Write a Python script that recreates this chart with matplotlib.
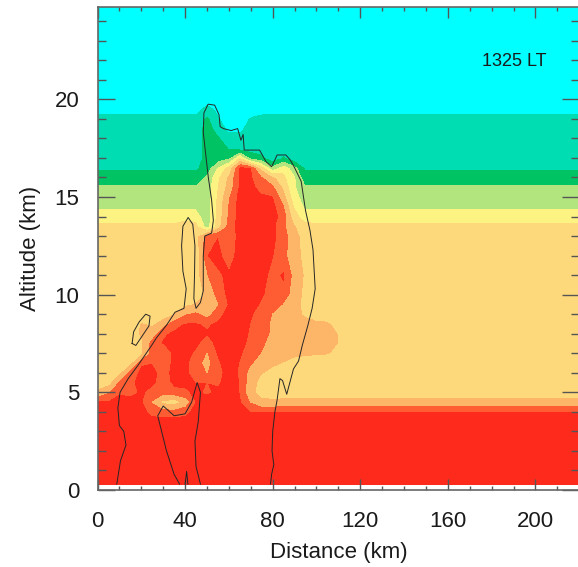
import numpy as np
import matplotlib
matplotlib.use('Agg')
import matplotlib.pyplot as plt
from matplotlib.ticker import MultipleLocator

plt.rcParams['font.family'] = ['Liberation Sans', 'DejaVu Sans']

# band classes: 0 red ... 8 cyan
band_colors = ['#fe2a1c', '#fe5c32', '#fdb567', '#fdd97b', '#fcf383',
               '#b3e57f', '#00c463', '#00ddb2', '#00ffff']

# altitude rows (km)
alt_km = [0.3, 3.0, 3.5, 4.0, 4.5, 5.0, 5.5, 6.0, 6.5, 7.0, 7.5, 8.0, 8.5, 9.0, 9.5,
          10.0, 11.0, 12.0, 13.0, 13.5, 14.0, 14.5, 15.0, 15.5, 16.0, 16.5, 17.0,
          17.5, 18.0, 18.5, 19.0, 19.5, 20.0, 24.8]

# undisturbed profile, used east of the storm
env_profile = [0, 0, 0, 0.5, 2.1, 3, 3, 3, 3, 3, 3, 3, 3, 3, 3,
               3, 3, 3, 3, 3.2, 4.0, 4.6, 5.0, 5.3, 6.0, 6.6, 7.0,
               7.0, 7.0, 7.0, 7.2, 7.8, 8, 8]
env_dist_km = [120, 220]

# storm section, columns at 0, 5, ..., 110 km
storm_dist_km = [0, 5, 10, 15, 20, 25, 30, 35, 40, 45, 50, 55, 60, 65, 70, 75, 80, 85, 90, 95, 100, 105, 110]
storm_rows = [
    [0, 0, 0, 0, 0, 0, 0, 0, 0, 0, 0, 0, 0, 0, 0, 0, 0, 0, 0, 0, 0, 0, 0],
    [0, 0, 0, 0, 0, 0, 0, 0, 0, 0, 0, 0, 0, 0, 0, 0, 0, 0, 0, 0, 0, 0, 0],
    [0, 0, 0, 0, 0, 0, 0, 0, 0, 0, 0, 0, 0, 0, 0, 0, 0, 0, 0, 0, 0, 0, 0],
    [0, 0, 0, 0, 0, 0.8, 1.0, 1.0, 0.8, 0, 0, 0, 0, 0, 0.5, 0.5, 0.5, 0.5, 0.5, 0.5, 0.5, 0.5, 0.5],
    [0.3, 0.3, 0, 0, 0.3, 1.5, 2.6, 2.8, 2.0, 0.3, 0, 0, 0, 0.3, 1.5, 2.2, 2.2, 2.1, 2.1, 2.1, 2.1, 2.1, 2.1],
    [2.2, 1.5, 0.6, 0.8, 0.3, 0.8, 1.0, 0.8, 0.6, 0.3, 0.6, 0.3, 0, 0.5, 2.2, 2.8, 3, 3, 3, 3, 3, 3, 3],
    [3, 2.8, 1.2, 0.6, 0.3, 0.2, 1.0, 0.2, 0.3, 0.5, 0.5, 0.6, 0, 0.5, 2.0, 2.8, 3, 3, 3, 3, 3, 3, 3],
    [3, 3, 2.6, 1.0, 0.2, 0.2, 0.8, 0.2, 0.3, 0.8, 1.5, 0.8, 0, 0.6, 1.8, 2.4, 2.7, 2.9, 3, 3, 3, 3, 3],
    [3, 3, 3, 2.6, 0.6, 0.5, 1.0, 0.2, 0.2, 1.0, 1.8, 0.6, 0, 0.5, 1.3, 2.0, 2.3, 2.5, 2.6, 2.7, 2.8, 3, 3],
    [3, 3, 3, 3, 2.6, 1.0, 1.2, 0.2, 0.2, 0.6, 1.5, 0.3, 0, 0.3, 1.0, 1.5, 2.0, 2.2, 2.4, 2.4, 2.4, 2.4, 2.7],
    [3, 3, 3, 3, 2.6, 0.8, 0.4, 0.2, 0.2, 0.3, 0.8, 0.2, 0, 0, 0.8, 1.3, 1.8, 2.0, 2.0, 2.0, 2.0, 2.1, 2.5],
    [3, 3, 3, 3, 2.3, 2.0, 0.6, 0.3, 0.2, 0.3, 0.4, 0.2, 0, 0, 0.6, 1.2, 1.6, 2.0, 2.0, 2.0, 2.0, 2.1, 2.5],
    [3, 3, 3, 3, 2.4, 2.6, 1.8, 0.8, 0.4, 0.4, 0.6, 0.3, 0, 0, 0.5, 1.1, 1.6, 2.0, 2.0, 2.1, 2.2, 2.3, 2.8],
    [3, 3, 3, 3, 3, 3, 3, 2.4, 1.5, 1.2, 1.8, 0.8, 0, 0, 0.3, 1.0, 1.5, 2.0, 2.2, 2.6, 3, 3, 3],
    [3, 3, 3, 3, 3, 3, 3, 3, 2.6, 2.4, 2.2, 1.5, 0.3, 0, 0, 0.6, 1.2, 1.5, 2.2, 2.7, 3, 3, 3],
    [3, 3, 3, 3, 3, 3, 3, 3, 3, 2.8, 2.3, 1.0, 0.2, 0, 0, 0.3, 1.0, 0.8, 2.0, 2.7, 3, 3, 3],
    [3, 3, 3, 3, 3, 3, 3, 3, 3, 2.8, 1.5, 0.6, 0.3, 0, 0, 0, 0.8, 0.3, 1.8, 2.6, 3, 3, 3],
    [3, 3, 3, 3, 3, 3, 3, 3, 2.6, 3.0, 0.5, 0.2, 0.9, 0, 0, 0, 0.4, 1.2, 2.0, 2.8, 3, 3, 3],
    [3, 3, 3, 3, 3, 3, 3, 3, 2.5, 2.8, 0.8, 0.5, 1.2, 0, 0, 0, 0.2, 1.0, 2.1, 2.9, 3, 3, 3],
    [3.2, 3.2, 3.2, 3.2, 3.2, 3.2, 3.2, 3.2, 2.6, 3.0, 4.8, 2.8, 1.0, 0, 0, 0, 0.2, 1.2, 2.4, 3.0, 3.2, 3.2, 3.2],
    [4, 4, 4, 4, 4, 4, 4, 4, 4, 4, 5, 3.0, 1.2, 0, 0, 0, 0, 0.9, 3.0, 4.0, 4, 4, 4],
    [4.6, 4.6, 4.6, 4.6, 4.6, 4.6, 4.6, 4.6, 4.6, 4.6, 5.0, 3.0, 1.3, 0, 0, 0.2, 0.1, 1.3, 3.5, 4.6, 4.6, 4.6, 4.6],
    [5, 5, 5, 5, 5, 5, 5, 5, 5, 5, 5.0, 3.2, 1.5, 0, 0, 0.3, 0.4, 2.0, 4.0, 5.0, 5, 5, 5],
    [5.3, 5.3, 5.3, 5.3, 5.3, 5.3, 5.3, 5.3, 5.3, 5.3, 5.0, 3.4, 2.0, 0.2, 0.2, 0.8, 1.2, 2.6, 4.3, 5.3, 5.3, 5.3, 5.3],
    [6, 6, 6, 6, 6, 6, 6, 6, 6, 6, 5.2, 3.6, 2.2, 0.3, 0.3, 1.3, 2.2, 3.2, 4.3, 6.0, 6, 6, 6],
    [6.6, 6.6, 6.6, 6.6, 6.6, 6.6, 6.6, 6.6, 6.6, 6.6, 6.0, 4.3, 3.0, 0.2, 0.4, 2.8, 5.0, 3.8, 5.0, 6.6, 6.6, 6.6, 6.6],
    [7, 7, 7, 7, 7, 7, 7, 7, 7, 7, 6.0, 6.0, 5.5, 3.2, 5.5, 6.2, 7.0, 6.3, 7.0, 7, 7, 7, 7],
    [7, 7, 7, 7, 7, 7, 7, 7, 7, 7, 6.0, 6.2, 6.5, 6.8, 7, 7, 7, 7, 7, 7, 7, 7, 7],
    [7, 7, 7, 7, 7, 7, 7, 7, 7, 7, 6.0, 6.3, 7.0, 7.3, 7, 7, 7, 7, 7, 7, 7, 7, 7],
    [7, 7, 7, 7, 7, 7, 7, 7, 7, 7, 6.0, 6.8, 7.7, 7.6, 7.2, 7, 7, 7, 7, 7, 7, 7, 7],
    [7.2, 7.2, 7.2, 7.2, 7.2, 7.2, 7.2, 7.2, 7.2, 7.2, 6.2, 7.3, 8.0, 7.8, 7.4, 7.2, 7.2, 7.2, 7.2, 7.2, 7.2, 7.2, 7.2],
    [7.8, 7.8, 7.8, 7.8, 7.8, 7.8, 7.8, 7.8, 7.8, 7.8, 7.0, 7.7, 8.0, 8.0, 7.8, 7.8, 7.8, 7.8, 7.8, 7.8, 7.8, 7.8, 7.8],
    [8, 8, 8, 8, 8, 8, 8, 8, 8, 8, 8, 8, 8, 8, 8, 8, 8, 8, 8, 8, 8, 8, 8],
    [8, 8, 8, 8, 8, 8, 8, 8, 8, 8, 8, 8, 8, 8, 8, 8, 8, 8, 8, 8, 8, 8, 8],
]

# cloud boundary (km)
cloud_x_km = [8.8, 10.5, 13.0, 12.0, 10.0, 9.3, 10.3, 14.0, 18.6, 24.7, 27.0, 31.6, 35.4, 39.5,
              40.5, 39.0, 38.4, 39.0, 41.4, 43.5, 44.5, 44.3, 44.0, 45.0, 47.0, 48.3, 48.3, 49.0,
              52.1, 52.9, 52.1, 50.6, 48.3, 48.6, 50.5, 53.5, 55.5, 56.0, 57.5, 61.0, 64.0, 65.5,
              66.5, 67.0, 70.0, 74.0, 77.0, 79.5, 81.0, 82.0, 86.0, 88.0, 90.0, 93.0, 95.0, 97.0,
              98.4, 99.4, 98.0, 96.0, 93.5, 91.8, 89.5, 86.4, 84.5, 83.3, 82.0, 81.0, 80.0, 79.7,
              80.5, 79.5, 79.0]
cloud_z_km = [0.3, 1.5, 2.3, 3.0, 3.3, 4.2, 5.0, 5.7, 6.4, 7.4, 7.8, 8.45, 9.1, 9.3,
              10.3, 11.2, 12.5, 13.5, 13.95, 13.6, 12.5, 11.0, 9.8, 9.3, 9.6, 10.2, 12.0, 13.0,
              13.15, 13.8, 14.85, 16.0, 18.3, 19.3, 19.75, 19.7, 19.2, 18.6, 18.5, 18.4, 18.5, 17.9,
              18.2, 17.4, 17.4, 17.4, 16.8, 16.55, 16.9, 17.15, 17.15, 16.9, 16.5, 15.8, 14.3, 13.3,
              12.3, 10.3, 9.3, 8.4, 7.4, 6.6, 6.2, 4.9, 5.6, 5.7, 4.6, 4.0, 3.0, 2.0,
              1.3, 0.8, 0.3]
cell_x_km = [15.8, 16.5, 19.0, 22.0, 24.0, 23.5, 20.5, 17.5, 15.8]
cell_z_km = [7.5, 8.1, 8.6, 9.0, 8.9, 8.4, 7.9, 7.4, 7.5]
low_x_km = [37.5, 35.0, 31.5, 27.5, 30.0, 35.0, 40.0, 43.0, 45.5, 47.0, 46.0, 44.5, 45.0, 47.0]
low_z_km = [0.3, 0.8, 2.0, 3.8, 4.3, 3.8, 3.9, 4.5, 5.5, 5.0, 3.5, 2.5, 1.2, 0.3]
bump_x_km = [40.0, 40.7, 41.3]
bump_z_km = [0.3, 0.95, 0.3]

field = np.column_stack([np.array(storm_rows)] + [np.array(env_profile)] * len(env_dist_km))
dist_km = storm_dist_km + env_dist_km

fig = plt.figure(figsize=(5.78, 5.67), dpi=100)
ax = fig.add_axes([97.5 / 578, 77 / 567, 481.8 / 578, 483.5 / 567])

levels = np.arange(-0.5, 9.0, 1.0)
ax.contourf(dist_km, alt_km, field, levels=levels, colors=band_colors)

line_kw = dict(color='#262626', lw=0.7)
ax.plot(cloud_x_km, cloud_z_km, **line_kw)
ax.plot(cell_x_km, cell_z_km, **line_kw)
ax.plot(low_x_km, low_z_km, **line_kw)
ax.plot(bump_x_km, bump_z_km, **line_kw)

ax.text(175.5, 21.7, '1325 LT', fontsize=13, color='#1a1a1a')

ax.set_xlim(0, 220)
ax.set_ylim(0, 24.75)
ax.xaxis.set_major_locator(MultipleLocator(40))
ax.xaxis.set_minor_locator(MultipleLocator(10))
ax.yaxis.set_major_locator(MultipleLocator(5))
ax.yaxis.set_minor_locator(MultipleLocator(1))
ax.tick_params(axis='both', which='both', direction='in', top=True, right=True,
               color='#555555', labelsize=16, labelcolor='#1a1a1a')
ax.tick_params(axis='x', which='major', length=8, width=1, pad=15)
ax.tick_params(axis='x', which='minor', length=3, width=1)
ax.tick_params(axis='y', which='major', length=12, width=1, pad=13)
ax.tick_params(axis='y', which='minor', length=6, width=1)
for spine in ax.spines.values():
    spine.set_color('#666666')
    spine.set_linewidth(1.2)

ax.set_xlabel('Distance (km)', fontsize=16, color='#1a1a1a', labelpad=7.5)
ax.set_ylabel('Altitude (km)', fontsize=16, color='#1a1a1a', labelpad=10)

fig.savefig('out.png', dpi=100)
